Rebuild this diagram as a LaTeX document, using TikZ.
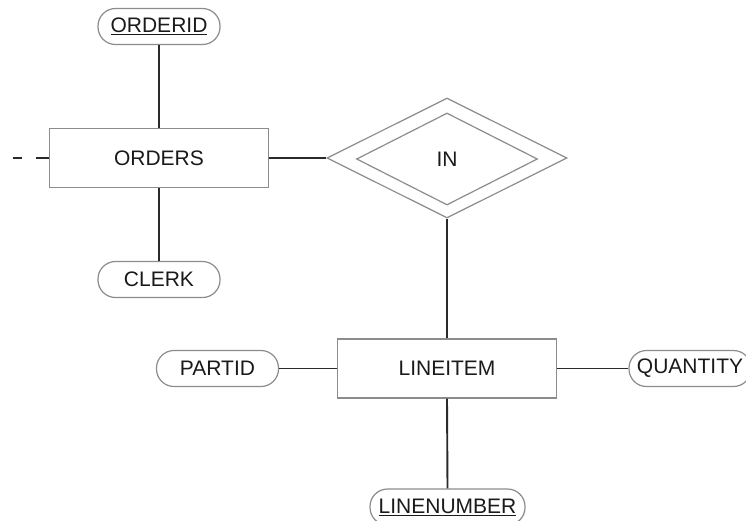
\documentclass[tikz,border=0pt]{standalone}
\usepackage{fontspec}
\setmainfont{Liberation Sans}
\usetikzlibrary{shapes.geometric}
\definecolor{bordergray}{HTML}{8C8C8C}
\definecolor{linegray}{HTML}{2A2A2A}
\definecolor{textgray}{HTML}{1A1A1A}
\tikzset{
  er/.style={font=\fontsize{21}{24}\selectfont, text=textgray},
  entity/.style={er, draw=bordergray, line width=1.2pt, fill=white, rectangle, minimum width=219pt, minimum height=59pt, inner sep=0pt},
  attr/.style={er, draw=bordergray, line width=1.2pt, fill=white, rectangle, rounded corners=17.5pt, minimum width=122pt, minimum height=36pt, inner sep=0pt},
  rel/.style={draw=bordergray, line width=1.2pt, diamond, inner sep=0pt},
  conn/.style={draw=linegray, line width=1.9pt},
}
\begin{document}
\begin{tikzpicture}[x=1pt,y=-1pt]
\useasboundingbox[fill=white] (0,0) rectangle (746,520);
% entities
\node[entity] (orders) at (159,158) {ORDERS};
\node[entity] (lineitem) at (447,368.5) {LINEITEM};
% relationship
\node[rel, minimum width=240pt, minimum height=120pt] (inouter) at (447,158) {};
\node[rel, er, minimum width=181pt, minimum height=92pt] (in) at (447,159) {IN};
% attributes
\node[attr] (orderid) at (159,26.5) {\underline{ORDERID}};
\node[attr] (clerk) at (159,279.5) {CLERK};
\node[attr] (partid) at (217.5,368.5) {PARTID};
\node[attr] (quantity) at (690,368.5) {QUANTITY};
\node[attr, minimum width=155pt] (linenumber) at (447.5,507) {\underline{LINENUMBER}};
\coordinate (dashend) at (13,158);
% connectors
\draw[conn] (orderid.south) -- (orders.north);
\draw[conn] (orders.south) -- (clerk.north);
\draw[conn] (orders.east) -- (inouter.west);
\draw[conn] (inouter.south) -- (lineitem.north);
\draw[conn] (partid.east) -- (lineitem.west);
\draw[conn] (lineitem.east) -- (quantity.west);
\draw[conn] (lineitem.south) -- (linenumber.north);
\draw[conn, dash pattern=on 13pt off 14pt on 9pt off 20pt] (orders.west) -- (dashend);
\end{tikzpicture}
\end{document}
